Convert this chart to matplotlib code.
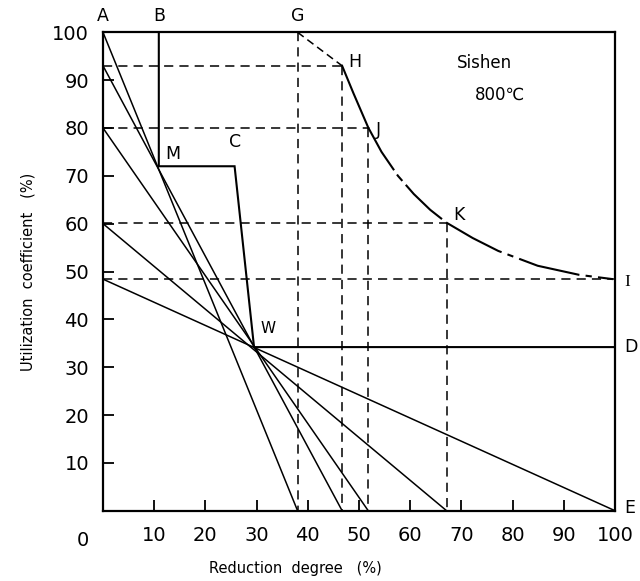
import matplotlib
matplotlib.use("Agg")
import matplotlib.pyplot as plt

plt.rcParams['font.family'] = ['DejaVu Sans']

# ---- data ----
x_ticks = [10, 20, 30, 40, 50, 60, 70, 80, 90, 100]
y_ticks = [10, 20, 30, 40, 50, 60, 70, 80, 90, 100]

# operating lines (y-intercept at x=0, x-intercept at y=0)
fan_y0 = [100, 93, 80, 60, 48.4]
fan_x0 = [38, 46.7, 51.8, 67.1, 100]

# B-M-C-W-D path
path_x = [10.9, 10.9, 25.7, 29.5, 100]
path_y = [100, 72, 72, 34.2, 34.2]

# curve G-H-J-K-I
gh_x = [38, 46.7]
gh_y = [100, 93.0]
hj_x = [46.7, 48.9, 51.8]
hj_y = [93.0, 87.3, 80.1]
jk_x = [51.8, 54.4, 57.6, 60.7, 63.9, 67.1]
jk_y = [80.1, 75.0, 70.0, 66.2, 62.9, 60.2]
ki_x = [67.1, 72.2, 77.2, 84.9, 93.0, 99.6]
ki_y = [60.2, 57.0, 54.3, 51.2, 49.3, 48.4]

# construction (dashed) points: G, H, J, K, I
proj_names = ['G', 'H', 'J', 'K', 'I']
proj_x = [38, 46.7, 51.8, 67.1, 100]
proj_y = [100, 93.0, 80.1, 60.2, 48.4]

# ---- figure ----
fig = plt.figure(figsize=(6.4, 5.81), dpi=100)
ax = fig.add_axes([103/640, 1-510.7/581, 512/640, (510.7-32.3)/581])
ax.set_xlim(0, 100)
ax.set_ylim(0, 100)

lw_thin = 1.1
lw_thick = 1.5
dash = (0, (6, 4))

# fan lines
for y0, x0 in zip(fan_y0, fan_x0):
    ax.plot([0, x0], [y0, 0], color='black', lw=lw_thin, solid_capstyle='butt')

# B-M-C-W-D
ax.plot(path_x, path_y, color='black', lw=lw_thick, solid_joinstyle='miter')

# curve
ax.plot(gh_x, gh_y, color='black', lw=lw_thin, linestyle=(0, (5, 3)))
ax.plot(hj_x, hj_y, color='black', lw=lw_thick)
ax.plot(jk_x, jk_y, color='black', lw=lw_thick, linestyle=(0, (24, 2.5, 4, 2.5)))
ax.plot(ki_x, ki_y, color='black', lw=lw_thick, linestyle=(0, (30, 3, 3, 3)))

# dashed construction lines
for n, px, py in zip(proj_names, proj_x, proj_y):
    if n != 'G':
        ax.plot([0, px], [py, py], color='black', lw=lw_thin, linestyle=dash)
    if n != 'I':
        ax.plot([px, px], [py, 0], color='black', lw=lw_thin, linestyle=dash)

# spines & ticks
for s in ax.spines.values():
    s.set_linewidth(1.6)
ax.set_xticks(x_ticks)
ax.set_yticks(y_ticks)
ax.set_xticklabels([str(v) for v in x_ticks])
ax.set_yticklabels([str(v) for v in y_ticks])
ax.tick_params(direction='in', length=8, width=1.3, labelsize=14)
ax.tick_params(axis='y', pad=10)
ax.tick_params(axis='x', pad=11)
ax.text(-3.9, -4.3, '0', fontsize=14, ha='center', va='top')

ax.set_ylabel('Utilization  coefficient   (%)', fontsize=10.5, labelpad=12)
ax.text(37.5, -10.5, 'Reduction  degree   (%)', fontsize=10.5, ha='center', va='top')

# point labels
fs = 12.5
ax.text(0, 101.5, 'A', fontsize=fs, ha='center', va='bottom')
ax.text(path_x[0], 101.5, 'B', fontsize=fs, ha='center', va='bottom')
ax.text(proj_x[0], 101.5, 'G', fontsize=fs, ha='center', va='bottom')
ax.text(proj_x[1] + 1.2, proj_y[1] + 0.8, 'H', fontsize=fs, ha='left', va='center')
ax.text(proj_x[2] + 1.5, proj_y[2] - 0.5, 'J', fontsize=fs, ha='left', va='center')
ax.text(proj_x[3] + 1.3, proj_y[3] + 1.6, 'K', fontsize=fs, ha='left', va='center')
ax.text(101.8, proj_y[4] - 0.5, 'I', fontsize=fs, ha='left', va='center', family='Liberation Serif')
ax.text(101.8, path_y[4], 'D', fontsize=fs, ha='left', va='center')
ax.text(101.8, 0.5, 'E', fontsize=fs, ha='left', va='center')
ax.text(path_x[1] + 1.2, path_y[1] + 2.5, 'M', fontsize=fs, ha='left', va='center')
ax.text(path_x[2], path_y[2] + 3.2, 'C', fontsize=fs, ha='center', va='bottom')
ax.text(path_x[3] + 1.2, path_y[3] + 3.8, 'W', fontsize=11, ha='left', va='center')

ax.text(74.5, 93.5, 'Sishen', fontsize=12, ha='center', va='center')
ax.text(77.5, 87.0, '800\u2103', fontsize=12, ha='center', va='center')

fig.savefig('out.png', dpi=100)
